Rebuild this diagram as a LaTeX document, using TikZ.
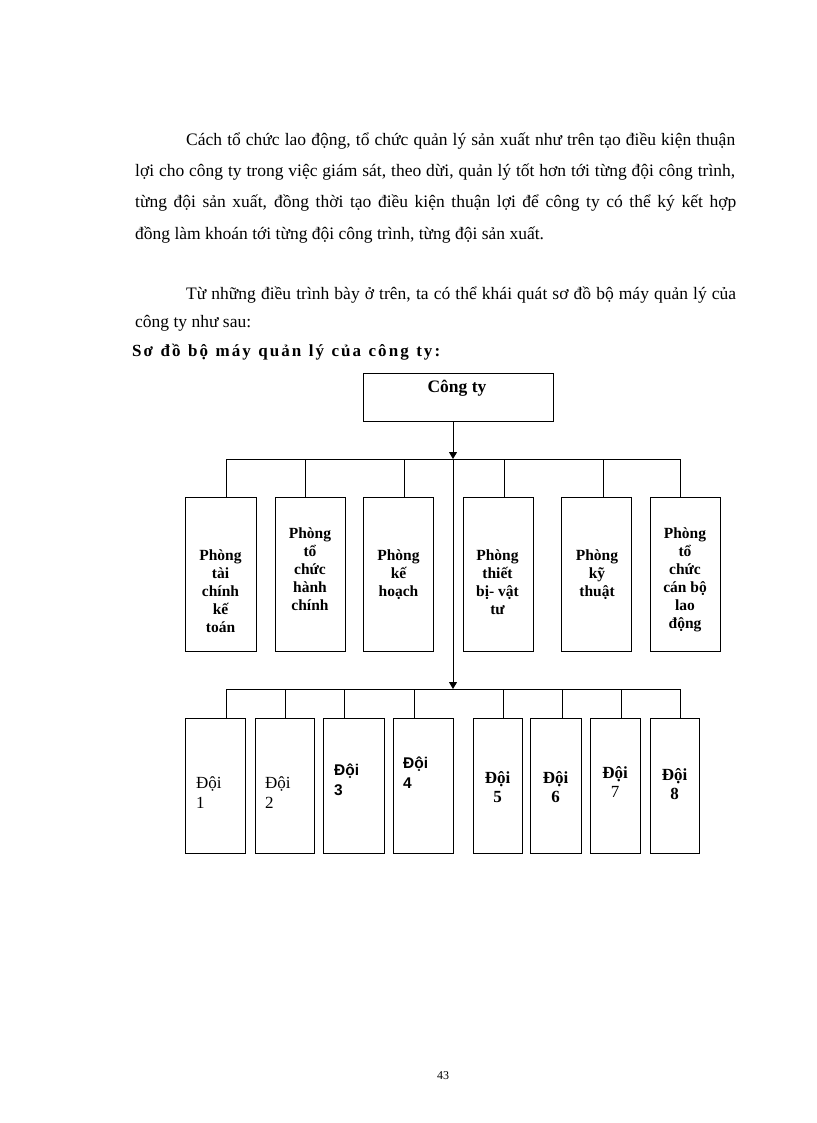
\documentclass[tikz,border=0pt]{standalone}
\usepackage{fontspec}
\setmainfont{Liberation Serif}
\newfontfamily\sansf{Liberation Sans}
\newfontfamily\titlef[LetterSpace=12]{Liberation Serif}
\usetikzlibrary{arrows.meta}
\begin{document}
\begin{tikzpicture}[x=1pt,y=-1pt,
  conn/.style={draw=black,line width=1pt},
  tip/.style={-{Triangle[width=8pt,length=7pt]}},
  box/.style={draw=black,line width=1pt,inner sep=0pt,rectangle},
  bodyline/.style={anchor=base west,inner sep=0pt,font=\fontsize{17.5}{21}\selectfont},
  dline/.style={anchor=base,inner sep=0pt,font=\bfseries\fontsize{15.5}{18}\selectfont},
  tline/.style={anchor=base west,inner sep=0pt,font=\fontsize{17}{20}\selectfont},
  tcline/.style={anchor=base,inner sep=0pt,font=\fontsize{17}{20}\selectfont},
]
\fill[white] (0,0) rectangle (816,1123);
\useasboundingbox (0,0) rectangle (816,1123);

% ---- paragraph text ----
\node[bodyline] (p1) at (186,146) {\makebox[549pt][s]{Cách tổ chức lao động, tổ chức quản lý sản xuất như trên tạo điều kiện thuận}};
\node[bodyline] (p2) at (135,177) {\makebox[600pt][s]{lợi cho công ty trong việc giám sát, theo dừi, quản lý tốt hơn tới từng đội công trình,}};
\node[bodyline] (p3) at (135,208) {\makebox[601pt][s]{từng đội sản xuất, đồng thời tạo điều kiện thuận lợi để công ty có thể ký kết hợp}};
\node[bodyline] (p4) at (135,240) {đồng làm khoán tới từng đội công trình, từng đội sản xuất.};
\node[bodyline] (p5) at (186,299) {\makebox[550pt][s]{Từ những điều trình bày ở trên, ta có thể khái quát sơ đồ bộ máy quản lý của}};
\node[bodyline] (p6) at (135,327) {công ty như sau:};
\node[anchor=base west,inner sep=0pt] (title) at (132,356) {\titlef\bfseries\fontsize{17}{20}\selectfont\makebox[308pt][s]{Sơ đồ bộ máy quản lý của công ty:}};

% ---- top box ----
\node[box,minimum width=190pt,minimum height=48pt] (top) at (458,397) {};
\node[anchor=base,inner sep=0pt,font=\bfseries\fontsize{17.5}{21}\selectfont] (toptext) at (457,392) {Công ty};

% ---- department boxes ----
\node[box,minimum width=71pt,minimum height=154pt] (d1) at (220.5,574) {};
\node[box,minimum width=70pt,minimum height=154pt] (d2) at (310,574) {};
\node[box,minimum width=70pt,minimum height=154pt] (d3) at (398,574) {};
\node[box,minimum width=70pt,minimum height=154pt] (d4) at (498,574) {};
\node[box,minimum width=70pt,minimum height=154pt] (d5) at (596.5,574) {};
\node[box,minimum width=70pt,minimum height=154pt] (d6) at (685,574) {};

\foreach \t [count=\i] in {Phòng,tài,chính,kế,toán}
  \node[dline] (d1t\i) at (220.5,{560+18*(\i-1)}) {\t};
\foreach \t [count=\i] in {Phòng,tổ,chức,hành,chính}
  \node[dline] (d2t\i) at (310,{538+18*(\i-1)}) {\t};
\foreach \t [count=\i] in {Phòng,kế,hoạch}
  \node[dline] (d3t\i) at (398.5,{560+18*(\i-1)}) {\t};
\foreach \t [count=\i] in {Phòng,thiết,bị- vật,tư}
  \node[dline] (d4t\i) at (497.5,{560+18*(\i-1)}) {\t};
\foreach \t [count=\i] in {Phòng,kỹ,thuật}
  \node[dline] (d5t\i) at (597,{560+18*(\i-1)}) {\t};
\foreach \t [count=\i] in {Phòng,tổ,chức,cán bộ,lao,động}
  \node[dline] (d6t\i) at (685,{538+18*(\i-1)}) {\t};

% ---- team boxes ----
\node[box,minimum width=60pt,minimum height=135pt] (t1) at (215,785.5) {};
\node[box,minimum width=59pt,minimum height=135pt] (t2) at (284.5,785.5) {};
\node[box,minimum width=61pt,minimum height=135pt] (t3) at (353.5,785.5) {};
\node[box,minimum width=60pt,minimum height=135pt] (t4) at (423,785.5) {};
\node[box,minimum width=49pt,minimum height=135pt] (t5) at (497.5,785.5) {};
\node[box,minimum width=51pt,minimum height=135pt] (t6) at (555.5,785.5) {};
\node[box,minimum width=50pt,minimum height=135pt] (t7) at (615,785.5) {};
\node[box,minimum width=49pt,minimum height=135pt] (t8) at (674.5,785.5) {};

\node[tline] (t1a) at (196,788) {Đội};
\node[tline] (t1b) at (196,808) {1};
\node[tline] (t2a) at (265,788) {Đội};
\node[tline] (t2b) at (265,808) {2};
\node[tline,font=\sansf\bfseries\fontsize{15.5}{18}\selectfont] (t3a) at (334,775) {Đội};
\node[tline,font=\sansf\bfseries\fontsize{15.5}{18}\selectfont] (t3b) at (334,795) {3};
\node[tline,font=\sansf\bfseries\fontsize{15.5}{18}\selectfont] (t4a) at (403,768) {Đội};
\node[tline,font=\sansf\bfseries\fontsize{15.5}{18}\selectfont] (t4b) at (403,788) {4};
\node[tcline,font=\bfseries\fontsize{17}{20}\selectfont] (t5a) at (497.5,783) {Đội};
\node[tcline,font=\bfseries\fontsize{17}{20}\selectfont] (t5b) at (497.5,802) {5};
\node[tcline,font=\bfseries\fontsize{17}{20}\selectfont] (t6a) at (555.5,783) {Đội};
\node[tcline,font=\bfseries\fontsize{17}{20}\selectfont] (t6b) at (555.5,802) {6};
\node[tcline,font=\bfseries\fontsize{17}{20}\selectfont] (t7a) at (615,778) {Đội};
\node[tcline] (t7b) at (615,797) {7};
\node[tcline,font=\bfseries\fontsize{17}{20}\selectfont] (t8a) at (674.5,780) {Đội};
\node[tcline,font=\bfseries\fontsize{17}{20}\selectfont] (t8b) at (674.5,799) {8};

% ---- connectors ----
\coordinate (hubA) at (453,459);
\coordinate (hubB) at (453,689);
\draw[conn,tip] (top.south -| hubA) -- (hubA);
\draw[conn,tip] (hubA) -- (hubB);

\coordinate (a1) at (226,459);
\coordinate (a2) at (305,459);
\coordinate (a3) at (404,459);
\coordinate (a4) at (504,459);
\coordinate (a5) at (603,459);
\coordinate (a6) at (680,459);
\draw[conn] (a1) -- (a6);
\foreach \i in {1,...,6} \draw[conn] (a\i) -- (a\i |- d\i.north);

\coordinate (b1) at (226,689);
\coordinate (b2) at (285,689);
\coordinate (b3) at (344,689);
\coordinate (b4) at (414,689);
\coordinate (b5) at (503,689);
\coordinate (b6) at (562,689);
\coordinate (b7) at (621,689);
\coordinate (b8) at (680,689);
\draw[conn] (b1) -- (b8);
\foreach \i in {1,...,8} \draw[conn] (b\i) -- (b\i |- t\i.north);

% ---- page number ----
\node[anchor=base,inner sep=0pt,font=\fontsize{12}{14}\selectfont] (pg) at (443,1079) {43};
\end{tikzpicture}
\end{document}
